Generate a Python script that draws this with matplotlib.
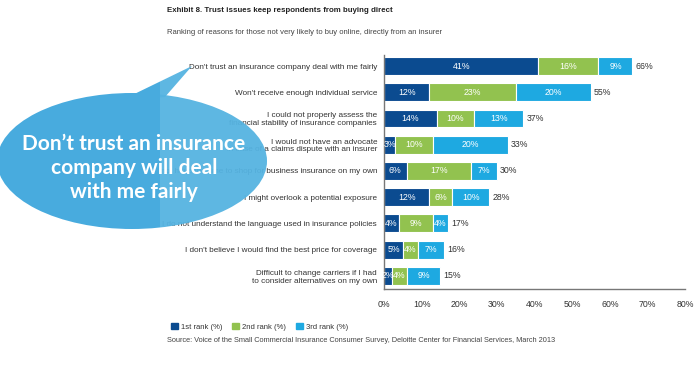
import matplotlib
matplotlib.use("Agg")
import matplotlib.pyplot as plt
from matplotlib.patches import Ellipse, Polygon, Patch, Rectangle

W, H = 700, 373

reasons = [
    "Don't trust an insurance company deal with me fairly",
    "Won't receive enough individual service",
    "I could not properly assess the\nfinancial stability of insurance companies",
    "I would not have an advocate\nin case of a claims dispute with an insurer",
    "I do not have the time to shop for business insurance on my own",
    "I might overlook a potential exposure",
    "I do not understand the language used in insurance policies",
    "I don't believe I would find the best price for coverage",
    "Difficult to change carriers if I had\nto consider alternatives on my own",
]
rank1 = [41, 12, 14, 3, 6, 12, 4, 5, 2]
rank2 = [16, 23, 10, 10, 17, 6, 9, 4, 4]
rank3 = [9, 20, 13, 20, 7, 10, 4, 7, 9]
totals = [66, 55, 37, 33, 30, 28, 17, 16, 15]
xticks = [0, 10, 20, 30, 40, 50, 60, 70, 80]
series_names = ["1st rank (%)", "2nd rank (%)", "3rd rank (%)"]

colors = ["#0b4b90", "#92c24f", "#1ea9e1"]
text_dark = "#333333"

plt.rcParams["font.family"] = ["Liberation Sans", "DejaVu Sans"]


def fx(px):
    return px / W


def fy(py):
    return 1 - py / H


fig = plt.figure(figsize=(7, 3.73), dpi=100)
ax = fig.add_axes([fx(384), fy(289), fx(685) - fx(384), fy(55) - fy(289)])

y = list(range(len(reasons)))
left = [0] * len(reasons)
for vals, col in zip([rank1, rank2, rank3], colors):
    ax.barh(y, vals, left=left, height=0.68, color=col, edgecolor="white", linewidth=0.8)
    for yi, l, v in zip(y, left, vals):
        ax.text(l + v / 2, yi, f"{v}%", ha="center", va="center", color="white", fontsize=6.3)
    left = [l + v for l, v in zip(left, vals)]

for yi, t in zip(y, totals):
    ax.text(t + 0.8, yi, f"{t}%", ha="left", va="center", color=text_dark, fontsize=6.3)

ax.set_xlim(0, 80)
ax.set_ylim(8.5, -0.42)
ax.set_yticks(y)
ax.set_yticklabels(reasons, fontsize=5.9, color=text_dark, linespacing=1.15)
ax.set_xticks(xticks)
ax.set_xticklabels([f"{v}%" for v in xticks], fontsize=6.3, color=text_dark)
ax.tick_params(length=0, pad=5)
ax.tick_params(axis="x", pad=8)
for s in ["top", "right"]:
    ax.spines[s].set_visible(False)
for s in ["left", "bottom"]:
    ax.spines[s].set_color("#777777")
    ax.spines[s].set_linewidth(1.0)

# titles
fig.text(fx(167), fy(10), "Exhibit 8. Trust issues keep respondents from buying direct",
         fontsize=5.7, fontweight="bold", color="#222222", va="center")
fig.text(fx(167), fy(33), "Ranking of reasons for those not very likely to buy online, directly from an insurer",
         fontsize=5.5, color="#444444", va="center")

# legend
handles = [Patch(color=c) for c in colors]
fig.legend(handles, series_names, loc="center left", bbox_to_anchor=(fx(164), fy(327)),
           ncol=3, frameon=False, fontsize=5.5, handlelength=0.9, handleheight=0.9,
           handletextpad=0.4, columnspacing=1.3, labelcolor=text_dark)

fig.text(fx(167), fy(341),
         "Source: Voice of the Small Commercial Insurance Consumer Survey, Deloitte Center for Financial Services, March 2013",
         fontsize=5.3, color="#444444", va="center")

# speech bubble overlay: darker left part, slightly lighter right part
split = 160
parts = [("#48abde", 1.0, (0, split)), ("#55b3e1", 0.95, (split, 300))]
for col, alpha, (x0, x1) in parts:
    clip = Rectangle((fx(x0), 0), fx(x1 - x0), 1, transform=fig.transFigure)
    ell = Ellipse((fx(132), fy(161)), fx(270), 136 / H, transform=fig.transFigure,
                  facecolor=col, edgecolor="none", alpha=alpha, zorder=10)
    tail = Polygon([(fx(122), fy(100)), (fx(192), fy(66)), (fx(165), fy(97))],
                   closed=True, transform=fig.transFigure, facecolor=col,
                   edgecolor="none", alpha=alpha, zorder=10)
    for p in (ell, tail):
        p.set_clip_path(clip)
        fig.patches.append(p)

fig.text(fx(134), fy(168), "Don\u2019t trust an insurance\ncompany will deal\nwith me fairly",
         ha="center", va="center", color="white", fontsize=15, fontweight="bold",
         family=["Lato", "DejaVu Sans"], linespacing=1.25, zorder=11)

fig.savefig("out.png", dpi=100)
